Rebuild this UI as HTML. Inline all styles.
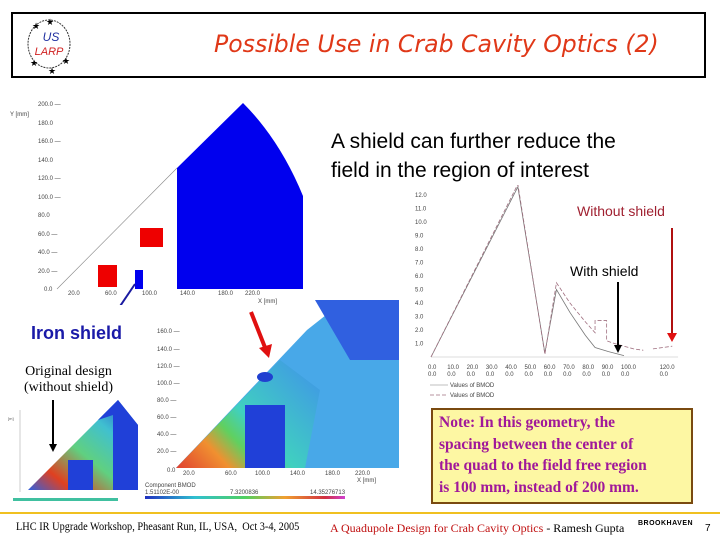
<!DOCTYPE html>
<html><head><meta charset="utf-8"><style>
body{margin:0;width:720px;height:540px;background:#fff;position:relative;overflow:hidden;font-family:"Liberation Sans",sans-serif}
.a{position:absolute;white-space:nowrap}
</style></head><body>
<div class="a" style="left:11px;top:12px;width:691px;height:62px;border:2px solid #000"></div>
<svg class="a" style="left:18px;top:16px" width="66" height="60">
<ellipse cx="31" cy="28" rx="21" ry="24" fill="none" stroke="#333" stroke-dasharray="2,1"/>
<text x="33" y="25" font-size="12" font-style="italic" fill="#2030a0" text-anchor="middle">US</text>
<text x="31" y="39" font-size="11" font-style="italic" fill="#d02020" text-anchor="middle">LARP</text>
<text x="14" y="13" font-size="9">★</text><text x="28" y="9" font-size="9">★</text><text x="12" y="50" font-size="9">★</text><text x="30" y="58" font-size="9">★</text><text x="44" y="48" font-size="9">★</text>
</svg>
<div class="a" style="left:214px;top:30px;font-size:23.6px;color:#e03818;font-family:'DejaVu Sans',sans-serif;font-style:italic">Possible Use in Crab Cavity Optics (2)</div>

<svg class="a" style="left:0;top:90px" width="320" height="215">
<g font-size="6" fill="#444"><text x="38" y="16">200.0 —</text><text x="38" y="35">180.0</text><text x="38" y="53">160.0 —</text><text x="38" y="72">140.0</text><text x="38" y="90">120.0 —</text><text x="38" y="109">100.0 —</text><text x="38" y="127">80.0</text><text x="38" y="146">60.0 —</text><text x="38" y="164">40.0 —</text><text x="38" y="183">20.0 —</text><text x="44" y="201">0.0</text><text x="10" y="26">Y [mm]</text>
<text x="68" y="205">20.0</text><text x="105" y="205">60.0</text><text x="142" y="205">100.0</text><text x="180" y="205">140.0</text><text x="218" y="205">180.0</text><text x="245" y="205">220.0</text><text x="258" y="213">X [mm]</text></g>
<line x1="57" y1="199" x2="177" y2="78" stroke="#888" stroke-width="0.6"/>
<path d="M177 78 L243 13 Q280 50 303 106 L303 199 L177 199 Z" fill="#0000ee"/>
<rect x="98" y="175" width="19" height="22" fill="#ee0000"/>
<rect x="140" y="138" width="23" height="19" fill="#ee0000"/>
<rect x="135" y="180" width="8" height="19" fill="#0000ee"/>
<line x1="108" y1="234" x2="135" y2="194" stroke="#1a1aa0" stroke-width="2"/>
</svg>

<div class="a" style="left:331px;top:127px;font-size:21px;line-height:29px;color:#000">A shield can further reduce the<br>field in the region of interest</div>

<svg class="a" style="left:410px;top:185px" width="300" height="220" id="ch"></svg>
<div class="a" style="left:577px;top:203px;font-size:14px;color:#a02030">Without shield</div>
<div class="a" style="left:570px;top:263px;font-size:14px;color:#000">With shield</div>

<div class="a" style="left:31px;top:323px;font-size:18px;font-weight:bold;color:#1a1aa8">Iron shield</div>
<div class="a" style="left:24px;top:364px;font-size:14px;line-height:16px;font-family:'Liberation Serif',serif;text-align:center">Original design<br>(without shield)</div>
<svg class="a" style="left:0;top:0" width="720" height="540">
<line x1="53" y1="400" x2="53" y2="446" stroke="#000" stroke-width="2"/><polygon points="49,444 57,444 53,452" fill="#000"/>
<line x1="251" y1="312" x2="266" y2="350" stroke="#e01010" stroke-width="4"/><polygon points="259,348 272,344 269,358" fill="#e01010"/>
</svg>

<svg class="a" style="left:8px;top:400px" width="135" height="105">
<defs><linearGradient id="g1" x1="0" y1="1" x2="1" y2="0"><stop offset="0" stop-color="#3060e0"/><stop offset="0.2" stop-color="#e04020"/><stop offset="0.45" stop-color="#60d080"/><stop offset="0.7" stop-color="#40c0d0"/><stop offset="1" stop-color="#2040d0"/></linearGradient></defs>
<polygon points="20,90 110,0 130,25 130,90" fill="url(#g1)"/>
<polygon points="90,20 110,0 130,25 130,90 105,90 105,15" fill="#2040d8"/>
<rect x="60" y="60" width="25" height="30" fill="#2040d8"/>
<g font-size="4" fill="#555"><text x="0" y="20">[m]</text></g>
<line x1="12" y1="10" x2="12" y2="92" stroke="#999" stroke-width="0.5"/>
<rect x="5" y="98" width="105" height="3" fill="#40c0a0"/>
</svg>

<svg class="a" style="left:145px;top:300px" width="260" height="205">
<defs><linearGradient id="g2" x1="0" y1="1" x2="1" y2="0.3"><stop offset="0" stop-color="#e04030"/><stop offset="0.25" stop-color="#f09030"/><stop offset="0.4" stop-color="#60d060"/><stop offset="0.55" stop-color="#40d0c0"/><stop offset="1" stop-color="#40a0e0"/></linearGradient>
<linearGradient id="cb" x1="0" x2="1"><stop offset="0" stop-color="#2030c0"/><stop offset="0.25" stop-color="#30c0d0"/><stop offset="0.5" stop-color="#50d060"/><stop offset="0.7" stop-color="#f0a030"/><stop offset="0.9" stop-color="#d03040"/><stop offset="1" stop-color="#d040d0"/></linearGradient></defs>
<polygon points="31,168 162,30 200,0 254,0 254,168" fill="#48a8e8"/>
<polygon points="31,168 135,60 175,90 160,168" fill="url(#g2)"/>
<polygon points="170,0 254,0 254,60 205,60" fill="#3060e0"/>
<rect x="100" y="105" width="40" height="63" fill="#2040d8"/>
<ellipse cx="120" cy="77" rx="8" ry="5" fill="#2040d0"/>
<g font-size="6" fill="#444"><text x="12" y="33">160.0 —</text><text x="12" y="51">140.0 —</text><text x="12" y="68">120.0 —</text><text x="12" y="85">100.0 —</text><text x="12" y="102">80.0 —</text><text x="12" y="119">60.0 —</text><text x="12" y="136">40.0 —</text><text x="12" y="153">20.0 —</text><text x="22" y="172">0.0</text>
<text x="38" y="175">20.0</text><text x="80" y="175">60.0</text><text x="110" y="175">100.0</text><text x="145" y="175">140.0</text><text x="180" y="175">180.0</text><text x="210" y="175">220.0</text><text x="212" y="182">X [mm]</text>
<text x="0" y="187">Component BMOD</text><text x="0" y="194">1.51102E-00</text><text x="85" y="194">7.3200836</text><text x="165" y="194">14.35276713</text></g>
<rect x="0" y="196" width="200" height="3" fill="url(#cb)"/>
</svg>

<div class="a" style="left:431px;top:408px;width:252px;height:90px;background:#fdf7a3;border:2px solid #7a4a10;padding:2px 0 0 6px;font-family:'Liberation Serif',serif;font-weight:bold;font-size:15.5px;line-height:21.5px;color:#a0189a">Note: In this geometry, the<br>spacing between the center of<br>the quad to the field free region<br>is 100 mm, instead of 200 mm.</div>

<div class="a" style="left:0;top:512px;width:720px;height:2px;background:#f0c020"></div>
<div class="a" style="left:16px;top:519px;font-size:12px;font-family:'Liberation Serif',serif;transform-origin:0 0;transform:scaleX(0.86)">LHC IR Upgrade Workshop, Pheasant Run, IL, USA,&nbsp; Oct 3-4, 2005</div>
<div class="a" style="left:330px;top:521px;font-size:12px;font-family:'Liberation Serif',serif;color:#c01010">A Quadupole Design for Crab Cavity Optics <span style="color:#000">- Ramesh Gupta</span></div>
<div class="a" style="left:638px;top:520px;font-size:7px;font-weight:bold;letter-spacing:0.5px">BROOKHAVEN</div>
<div class="a" style="left:705px;top:523px;font-size:10px">7</div>

<script>
const xTicks=[0,10,20,30,40,50,60,70,80,90,100,120];
const yTicks=[1,2,3,4,5,6,7,8,9,10,11,12];
const withX=[0,45,59,65,72,80,85,92,100];
const withY=[0,12.6,0.3,5.0,3.3,1.6,0.7,0.4,0.1];
const withoutX=[0,45,59,65,72,80,85,85,91,91,95,105,110];
const withoutY=[0,12.8,0.2,5.5,4.0,2.6,1.8,2.7,2.7,1.2,1.0,0.6,0.5];
const tailX=[115,125];
const tailY=[0.6,0.8];
const svg=document.getElementById('ch');
const NS='http://www.w3.org/2000/svg';
const X0=21,Y0=172,sx=1.93,sy=13.5;
const px=v=>X0+v*sx, py=v=>Y0-v*sy;
function mk(t,a){const e=document.createElementNS(NS,t);for(const k in a)e.setAttribute(k,a[k]);svg.appendChild(e);return e;}
yTicks.forEach(v=>{const t=mk('text',{x:X0-16,y:py(v)+2,'font-size':6,fill:'#444'});t.textContent=v.toFixed(1);

});
xTicks.forEach(v=>{const t=mk('text',{x:px(v)-3,y:Y0+12,'font-size':6,fill:'#444'});t.textContent=v.toFixed(1);


const t2=mk('text',{x:px(v)-3,y:Y0+19,'font-size':6,fill:'#444'});t2.textContent='0.0';

});
const ax=mk('line',{x1:X0,y1:Y0,x2:px(128),y2:Y0,stroke:'#bbb','stroke-width':0.6});


const l1=mk('polyline',{points:withX.map((x,i)=>px(x)+','+py(withY[i])).join(' '),fill:'none',stroke:'#777','stroke-width':0.8});


const l2=mk('polyline',{points:withoutX.map((x,i)=>px(x)+','+py(withoutY[i])).join(' '),fill:'none',stroke:'#a07080','stroke-width':0.8,'stroke-dasharray':'4,2'});


const l3=mk('polyline',{points:tailX.map((x,i)=>px(x)+','+py(tailY[i])).join(' '),fill:'none',stroke:'#a07080','stroke-width':0.8,'stroke-dasharray':'4,2'});


[['#aaa','none',202],['#a07080','4,2',212]].forEach(([c,d,y])=>{mk('line',{x1:20,y1:y-2,x2:38,y2:y-2,stroke:c,'stroke-dasharray':d,'stroke-width':0.7});
const t=mk('text',{x:40,y:y,'font-size':6,fill:'#444'});t.textContent='Values of BMOD';

});
const a1=mk('line',{x1:262,y1:43,x2:262,y2:150,stroke:'#b01010','stroke-width':2});


mk('polygon',{points:'257,148 267,148 262,157',fill:'#e01010'});
const a2=mk('line',{x1:208,y1:97,x2:208,y2:162,stroke:'#000','stroke-width':2});


mk('polygon',{points:'204,160 212,160 208,168',fill:'#000'});
</script>
</body></html>
